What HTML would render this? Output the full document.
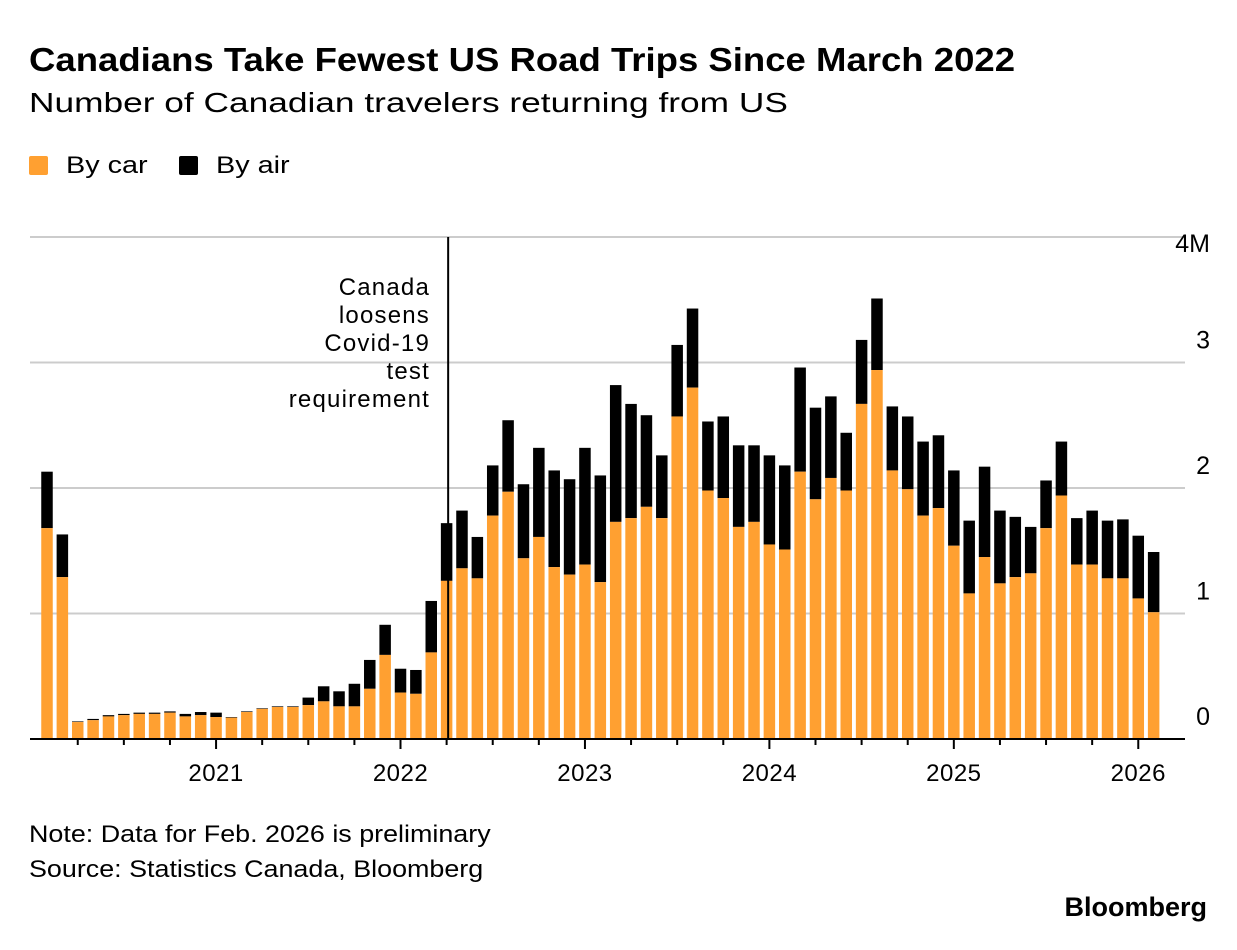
<!DOCTYPE html>
<html><head><meta charset="utf-8">
<style>
body{margin:0;background:#fff;font-family:"Liberation Sans",Arial,sans-serif;color:#000}
#wrap{position:relative;width:1237px;height:950px;overflow:hidden}
.t{position:absolute;white-space:nowrap;transform-origin:0 0}
</style></head><body>
<div id="wrap">
<div class="t" style="left:29px;top:41px;font-size:33px;font-weight:bold;transform:scaleX(1.107)">Canadians Take Fewest US Road Trips Since March 2022</div>
<div class="t" style="left:29px;top:87px;font-size:28px;transform:scaleX(1.26)">Number of Canadian travelers returning from US</div>
<div class="t" style="left:29px;top:152px;font-size:24px"><span style="display:inline-block;width:19px;height:19px;background:#ffa031;vertical-align:-2px;margin-right:18px;border-radius:2px"></span><span style="display:inline-block;transform:scaleX(1.2);transform-origin:0 0">By car</span></div>
<div class="t" style="left:179px;top:152px;font-size:24px"><span style="display:inline-block;width:19px;height:19px;background:#000;vertical-align:-2px;margin-right:18px;border-radius:2px"></span><span style="display:inline-block;transform:scaleX(1.2);transform-origin:0 0">By air</span></div>
<svg id="chart" width="1237" height="950" style="position:absolute;left:0;top:0"></svg>
<div class="t" style="left:29px;top:821px;font-size:24px;transform:scaleX(1.12)">Note: Data for Feb. 2026 is preliminary</div>
<div class="t" style="left:29px;top:856px;font-size:24px;transform:scaleX(1.12)">Source: Statistics Canada, Bloomberg</div>
<div class="t" style="right:30px;top:892px;font-size:27px;font-weight:bold">Bloomberg</div>
</div>
<script>
const car=[1.68,1.29,0.135,0.15,0.18,0.19,0.20,0.20,0.21,0.18,0.19,0.175,0.17,0.215,0.24,0.255,0.255,0.27,0.30,0.26,0.26,0.40,0.67,0.37,0.36,0.69,1.26,1.36,1.28,1.78,1.97,1.44,1.61,1.37,1.31,1.39,1.25,1.73,1.76,1.85,1.76,2.57,2.80,1.98,1.92,1.69,1.73,1.55,1.51,2.13,1.91,2.08,1.98,2.67,2.94,2.14,1.99,1.78,1.84,1.54,1.16,1.45,1.24,1.29,1.32,1.68,1.94,1.39,1.39,1.28,1.28,1.12,1.01];
const total=[2.13,1.63,0.14,0.16,0.19,0.20,0.21,0.21,0.22,0.20,0.215,0.21,0.175,0.22,0.245,0.26,0.26,0.33,0.42,0.38,0.44,0.63,0.91,0.56,0.55,1.10,1.72,1.82,1.61,2.18,2.54,2.03,2.32,2.14,2.07,2.32,2.10,2.82,2.67,2.58,2.26,3.14,3.43,2.53,2.57,2.34,2.34,2.26,2.18,2.96,2.64,2.73,2.44,3.18,3.51,2.65,2.57,2.37,2.42,2.14,1.74,2.17,1.82,1.77,1.69,2.06,2.37,1.76,1.82,1.74,1.75,1.62,1.49];
const yTicks=[0,1,2,3,4];
const yLabels=["0","1","2","3","4M"];
const years=["2021","2022","2023","2024","2025","2026"];
const startYear=2020, startMonth=1;
const NS="http://www.w3.org/2000/svg";
const svg=document.getElementById('chart');
const x0=47, step=15.37, y0=739, ppm=125.5, bw=11.5;
const X=i=>x0+i*step;
const Y=v=>y0-v*ppm;
function mk(t,a){const e=document.createElementNS(NS,t);for(const k in a)e.setAttribute(k,a[k]);svg.appendChild(e);return e;}
yTicks.forEach((v,i)=>{
  if(v>0){const g=mk('line',{x1:30,x2:1185,y1:Y(v),y2:Y(v),stroke:'#cccccc','stroke-width':2});
  
  }
  const ty=(v===4)?Y(v)+15:Y(v)-14;
  const t=mk('text',{x:1210,y:ty,'text-anchor':'end','font-size':25,'font-family':'Liberation Sans, sans-serif'});
  t.textContent=yLabels[i];
  
  
});
car.forEach((c,i)=>{
  const a=mk('rect',{x:X(i)-bw/2,y:Y(total[i]),width:bw,height:Math.max(0,Y(c)-Y(total[i])),fill:'#000'});
  
  
  const r=mk('rect',{x:X(i)-bw/2,y:Y(c),width:bw,height:y0-Y(c),fill:'#ffa031'});
  
  
});
const ax=mk('line',{x1:30,x2:1185,y1:y0,y2:y0,stroke:'#000','stroke-width':2});


for(let i=0;i<car.length;i++){
  const m=(startMonth+i)%12;
  if(m%3===0){
    const tk=mk('line',{x1:X(i),x2:X(i),y1:y0,y2:y0+(m===0?10:6),stroke:'#000','stroke-width':2});
    
    
    if(m===0){
      const yr=startYear+Math.floor((startMonth+i)/12);
      const t=mk('text',{x:X(i),y:y0+42,'text-anchor':'middle','font-size':24,'letter-spacing':'0.5','font-family':'Liberation Sans, sans-serif'});
      t.textContent=years[yr-2021];
      
      
    }
  }
}
const annIdx=26.1;
const al=mk('line',{x1:X(annIdx),x2:X(annIdx),y1:237,y2:y0,stroke:'#000','stroke-width':2});


["Canada","loosens","Covid-19","test","requirement"].forEach((s,i)=>{
  const t=mk('text',{x:430,y:295+i*28,'text-anchor':'end','font-size':24,'letter-spacing':'1.2','font-family':'Liberation Sans, sans-serif'});
  t.textContent=s;
  
  
});
</script>
</body></html>
